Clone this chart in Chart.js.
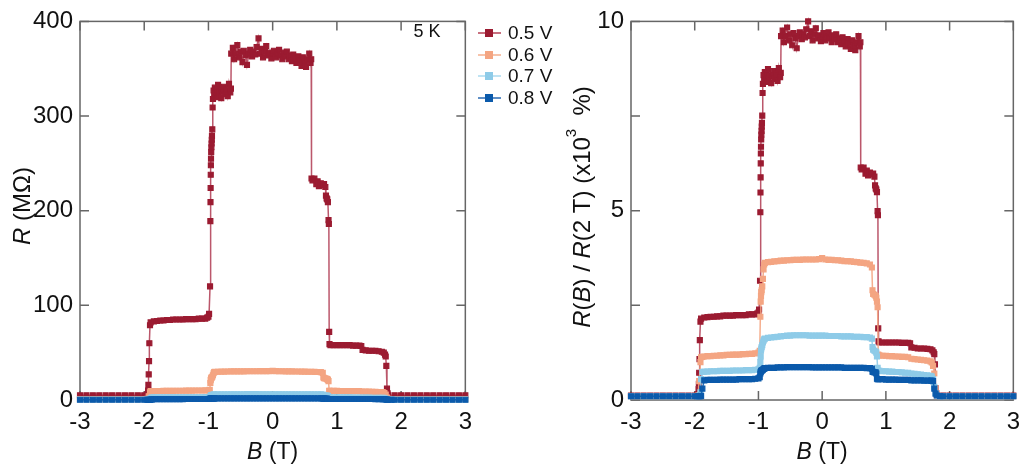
<!DOCTYPE html>
<html>
<head>
<meta charset="utf-8">
<script src="https://cdn.jsdelivr.net/npm/chart.js@4.4.1/dist/chart.umd.min.js"></script>
<style>
  html, body { margin: 0; padding: 0; background: #fff; }
  #wrap { position: relative; width: 1028px; height: 469px; overflow: hidden; font-family: "Liberation Sans", Arial, sans-serif; }
  canvas { position: absolute; top: 0; }
  .lg { position: absolute; left: 478px; height: 20px; width: 90px; }
  .lg .ln { position: absolute; left: 0; top: 9px; width: 23px; height: 2px; }
  .lg .sq { position: absolute; left: 7px; top: 6px; width: 8px; height: 8px; }
  .lg .tx { position: absolute; left: 30px; top: 0; font-size: 19px; line-height: 20px; color: #111; white-space: nowrap; }
</style>
</head>
<body>
<div id="wrap">
  <canvas id="cL" width="480" height="469" style="left:0;width:480px;height:469px"></canvas>
  <canvas id="cR" width="468" height="469" style="left:560px;width:468px;height:469px"></canvas>
  <div class="lg" style="top:23px"><div class="ln" style="background:#c8707f"></div><div class="sq" style="background:#9b1b31"></div><div class="tx">0.5 V</div></div>
  <div class="lg" style="top:44.7px"><div class="ln" style="background:#f7c3aa"></div><div class="sq" style="background:#f4a582"></div><div class="tx">0.6 V</div></div>
  <div class="lg" style="top:66.3px"><div class="ln" style="background:#bfe3f3"></div><div class="sq" style="background:#8ecbe8"></div><div class="tx">0.7 V</div></div>
  <div class="lg" style="top:88px"><div class="ln" style="background:#5f8fc6"></div><div class="sq" style="background:#0b5aab"></div><div class="tx">0.8 V</div></div>
</div>
<script>
// ---------- data ----------
const seriesLabels = ['0.5 V', '0.6 V', '0.7 V', '0.8 V'];
const xTickValues = [-3, -2, -1, 0, 1, 2, 3];
const yTicksLeft = [0, 100, 200, 300, 400];
const yTicksRight = [0, 2.5, 5, 7.5, 10];

// B (T) for the 0.5 V curve
const redB = [
  -3.0,-2.9,-2.8,-2.7,-2.6,-2.5,-2.4,-2.3,-2.2,-2.1,-2.0,-1.95,
  -1.94,-1.935,-1.93,-1.925,-1.92,-1.91,-1.9,
  -1.85,-1.8,-1.75,-1.7,-1.65,-1.6,-1.55,-1.5,-1.45,-1.4,-1.35,-1.3,-1.25,-1.2,-1.15,-1.1,-1.05,-1.02,-1.0,-0.99,
  -0.975,-0.97,-0.968,-0.966,-0.964,-0.962,-0.96,-0.957,-0.954,-0.951,-0.948,-0.945,-0.94,-0.935,
  -0.93,-0.92,-0.91,-0.9,-0.89,-0.88,-0.87,-0.86,-0.85,-0.84,-0.82,-0.8,-0.78,-0.76,-0.74,-0.72,-0.7,-0.68,-0.66,-0.65,
  -0.645,-0.62,-0.6,-0.58,-0.55,-0.52,-0.5,-0.47,-0.45,-0.42,-0.4,-0.37,-0.35,-0.32,-0.3,-0.27,-0.25,-0.22,-0.2,-0.17,-0.15,-0.12,-0.1,-0.07,-0.05,-0.02,0.0,0.02,0.05,0.07,0.1,0.12,0.15,0.17,0.2,0.22,0.25,0.27,0.3,0.32,0.35,0.37,0.4,0.42,0.45,0.47,0.5,0.52,0.55,0.57,0.59,0.6,
  0.605,0.62,0.65,0.68,0.7,0.72,0.75,0.78,0.8,0.82,0.83,0.84,0.85,0.86,0.87,0.875,
  0.88,0.885,0.9,0.95,1.0,1.05,1.1,1.15,1.2,1.25,1.3,1.35,1.38,1.4,1.45,1.5,1.55,1.6,1.65,1.7,1.73,1.75,1.76,1.77,
  1.78,1.79,1.8,1.9,2.0,2.1,2.2,2.3,2.4,2.5,2.6,2.7,2.8,2.9,3.0
];
// R (MOhm), 0.5 V
const redR = [
  5,5,5,5,5,5,5,5,5,5,5,6,
  10,16,27,41,60,79,82,
  83,83.5,84,84,84.5,84.5,85,85,85,85,85.5,85.5,85.5,85.5,86,86,86,87,88,91,
  120,189,209,224,238,248,255,262,267,271,275,279,286,309,
  318,327,322,330,324,320,328,325,333,322,326,319,327,331,323,328,321,334,325,329,
  366,372,360,366,375,362,368,357,369,364,354,366,370,363,368,365,373,382,366,371,362,368,374,364,367,361,366,369,362,366,370,364,360,367,363,368,360,364,358,365,361,356,363,359,353,362,357,352,360,366,356,360,
  234,232,234,228,231,226,229,227,228,225,216,213,212,209,190,186,
  72,59,58,58,58,58,58,58,58,57.5,57.5,57.5,57,53,52.5,52,52,52,51.5,51,50,48,46,36,
  12,7,5,5,5,5,5,5,5,5,5,5,5,5,5
];
// R(B)/R(2 T) (x10^3 %), 0.5 V
const redRatio = [
  0.12,0.12,0.12,0.12,0.12,0.12,0.12,0.12,0.12,0.12,0.12,0.15,
  0.28,0.43,0.72,1.08,1.58,2.07,2.15,
  2.18,2.19,2.2,2.2,2.21,2.21,2.23,2.23,2.23,2.23,2.24,2.24,2.24,2.24,2.26,2.26,2.26,2.28,2.31,2.39,
  3.15,4.96,5.48,5.88,6.25,6.51,6.69,6.88,7.01,7.11,7.22,7.32,7.51,8.11,
  8.35,8.58,8.45,8.66,8.5,8.4,8.61,8.53,8.74,8.45,8.56,8.37,8.58,8.69,8.48,8.61,8.43,8.77,8.53,8.64,
  9.61,9.76,9.45,9.61,9.84,9.5,9.66,9.37,9.69,9.55,9.29,9.61,9.71,9.53,9.66,9.58,9.79,10.0,9.61,9.74,9.5,9.66,9.82,9.55,9.63,9.48,9.61,9.69,9.5,9.61,9.71,9.55,9.45,9.63,9.53,9.66,9.45,9.55,9.4,9.58,9.48,9.34,9.53,9.42,9.27,9.5,9.37,9.24,9.45,9.61,9.34,9.45,
  6.14,6.09,6.14,5.98,6.06,5.93,6.01,5.96,5.98,5.9,5.67,5.59,5.56,5.49,4.99,4.88,
  1.89,1.55,1.52,1.52,1.52,1.52,1.52,1.52,1.52,1.51,1.51,1.51,1.5,1.39,1.38,1.36,1.36,1.36,1.35,1.34,1.31,1.26,1.21,0.94,
  0.31,0.18,0.13,0.12,0.12,0.12,0.12,0.12,0.12,0.12,0.12,0.12,0.12,0.12,0.12
];

// B (T) for the 0.6 / 0.7 / 0.8 V curves
const bandB = [
  -3.0,-2.9,-2.8,-2.7,-2.6,-2.5,-2.4,-2.3,-2.2,-2.1,-2.0,-1.95,
  -1.93,-1.91,-1.9,-1.88,
  -1.85,-1.8,-1.75,-1.7,-1.65,-1.6,-1.55,-1.5,-1.45,-1.4,-1.35,-1.3,-1.25,-1.2,-1.15,-1.1,-1.05,-1.0,
  -0.98,-0.97,-0.965,-0.96,-0.955,-0.95,-0.94,-0.93,-0.92,-0.91,
  -0.9,-0.85,-0.8,-0.75,-0.7,-0.65,-0.6,-0.55,-0.5,-0.45,-0.4,-0.35,-0.3,-0.25,-0.2,-0.15,-0.1,-0.05,0.0,0.05,0.1,0.15,0.2,0.25,0.3,0.35,0.4,0.45,0.5,0.55,0.6,0.65,0.7,0.75,
  0.78,0.79,0.8,0.82,0.84,0.85,0.86,0.87,
  0.88,0.9,0.95,1.0,1.05,1.1,1.15,1.2,1.25,1.3,1.35,1.4,1.45,1.5,1.55,1.6,1.65,1.7,
  1.72,1.74,1.76,1.78,1.8,1.85,
  1.9,2.0,2.1,2.2,2.3,2.4,2.5,2.6,2.7,2.8,2.9,3.0
];
const orangeR = [
  1,1,1,1,1,1,1,1,1,1,1,1.2,
  4,8,9.3,9.35,
  9.4,9.5,9.5,9.6,9.6,9.7,9.7,9.8,9.8,9.8,9.9,9.9,9.9,10,10,10,10.1,10.2,
  10.7,18,21,22.5,23.3,23.8,24.6,26.2,28.3,29.4,
  29.7,29.8,29.9,30,30.1,30.2,30.2,30.3,30.3,30.3,30.4,30.4,30.4,30.4,30.5,30.5,30.5,30.5,30.7,30.5,30.4,30.4,30.3,30.3,30.2,30.1,30.1,30,29.9,29.8,29.8,29.7,29.6,29.4,
  28.7,23.8,23,22.8,22.5,22.1,21.3,20,
  9.8,9.7,9.6,9.6,9.5,9.5,9.4,9.4,9.4,9.3,9.3,8.9,8.9,8.8,8.7,8.6,8.5,8.4,
  8.1,7.4,5.7,2.5,1.2,1,
  1,1,1,1,1,1,1,1,1,1,1,1
];
const orangeRatio = [
  0.1,0.1,0.1,0.1,0.1,0.1,0.1,0.1,0.1,0.1,0.1,0.12,
  0.5,1.0,1.13,1.14,
  1.15,1.16,1.16,1.17,1.17,1.18,1.18,1.19,1.19,1.2,1.2,1.2,1.21,1.21,1.22,1.22,1.23,1.25,
  1.3,2.2,2.6,2.75,2.85,2.9,3.0,3.2,3.45,3.58,
  3.62,3.64,3.65,3.66,3.67,3.68,3.68,3.69,3.69,3.7,3.7,3.7,3.71,3.71,3.71,3.71,3.71,3.72,3.75,3.71,3.7,3.7,3.69,3.69,3.68,3.67,3.67,3.66,3.65,3.64,3.63,3.62,3.61,3.58,
  3.5,2.9,2.8,2.78,2.75,2.7,2.6,2.45,
  1.2,1.18,1.17,1.17,1.16,1.16,1.15,1.15,1.14,1.14,1.13,1.09,1.08,1.07,1.06,1.05,1.04,1.02,
  0.99,0.9,0.7,0.3,0.15,0.1,
  0.1,0.1,0.1,0.1,0.1,0.1,0.1,0.1,0.1,0.1,0.1,0.1
];
const lightR = [
  0.5,0.5,0.5,0.5,0.5,0.5,0.5,0.5,0.5,0.5,0.5,0.5,
  0.6,1.0,2.0,2.7,
  2.8,2.8,2.8,2.8,2.8,2.8,2.8,2.9,2.9,2.9,2.9,2.9,2.9,2.9,2.9,2.9,3.0,3.0,
  3.1,3.6,4.1,4.6,4.9,5.0,5.2,5.4,5.6,5.7,
  5.8,5.9,5.9,6.0,6.0,6.0,6.1,6.1,6.1,6.1,6.2,6.2,6.2,6.2,6.1,6.1,6.1,6.1,6.1,6.1,6.1,6.1,6.1,6.0,6.0,6.0,6.0,6.0,6.0,6.0,6.0,5.9,5.9,5.9,
  5.8,5.0,4.8,4.7,4.6,4.5,4.1,3.1,
  2.8,2.8,2.7,2.7,2.7,2.7,2.7,2.7,2.6,2.6,2.6,2.5,2.5,2.5,2.4,2.4,2.4,2.3,
  2.2,2.0,1.3,0.7,0.5,0.4,
  0.4,0.4,0.4,0.4,0.4,0.4,0.4,0.4,0.4,0.4,0.4,0.4
];
const lightRatio = [
  0.1,0.1,0.1,0.1,0.1,0.1,0.1,0.1,0.1,0.1,0.1,0.1,
  0.12,0.2,0.55,0.74,
  0.75,0.75,0.76,0.76,0.76,0.77,0.77,0.77,0.77,0.78,0.78,0.78,0.78,0.79,0.79,0.79,0.8,0.81,
  0.85,1.0,1.15,1.3,1.36,1.4,1.45,1.52,1.57,1.6,
  1.62,1.64,1.65,1.66,1.67,1.68,1.69,1.7,1.7,1.71,1.71,1.71,1.71,1.71,1.7,1.7,1.7,1.7,1.7,1.7,1.69,1.69,1.69,1.69,1.68,1.68,1.68,1.68,1.67,1.67,1.67,1.66,1.66,1.65,
  1.62,1.4,1.33,1.3,1.28,1.25,1.15,0.85,
  0.78,0.77,0.76,0.76,0.75,0.75,0.74,0.74,0.73,0.72,0.72,0.7,0.69,0.68,0.67,0.66,0.65,0.64,
  0.62,0.55,0.35,0.18,0.12,0.1,
  0.1,0.1,0.1,0.1,0.1,0.1,0.1,0.1,0.1,0.1,0.1,0.1
];
const darkR = [
  0.3,0.3,0.3,0.3,0.3,0.3,0.3,0.3,0.3,0.3,0.3,0.3,
  0.3,0.3,0.4,0.7,
  1.0,1.0,1.0,1.0,1.0,1.0,1.0,1.0,1.0,1.0,1.05,1.05,1.05,1.05,1.05,1.05,1.1,1.1,
  1.15,1.3,1.4,1.45,1.5,1.5,1.55,1.55,1.6,1.6,
  1.65,1.65,1.65,1.66,1.67,1.67,1.68,1.68,1.69,1.69,1.7,1.7,1.7,1.7,1.7,1.69,1.69,1.69,1.69,1.69,1.68,1.68,1.68,1.68,1.67,1.67,1.67,1.66,1.66,1.66,1.65,1.65,1.64,1.64,
  1.6,1.45,1.4,1.4,1.4,1.35,1.1,1.05,
  1.05,1.05,1.05,1.05,1.04,1.04,1.04,1.03,1.03,1.03,1.02,1.02,1.02,1.01,1.01,1.0,1.0,1.0,
  1.0,0.95,0.6,0.4,0.3,0.3,
  0.3,0.3,0.3,0.3,0.3,0.3,0.3,0.3,0.3,0.3,0.3,0.3
];
const darkRatio = [
  0.1,0.1,0.1,0.1,0.1,0.1,0.1,0.1,0.1,0.1,0.1,0.1,
  0.1,0.1,0.11,0.3,
  0.52,0.53,0.53,0.53,0.53,0.54,0.54,0.54,0.54,0.54,0.54,0.55,0.55,0.55,0.55,0.55,0.56,0.57,
  0.6,0.7,0.74,0.76,0.77,0.78,0.79,0.8,0.82,0.83,
  0.84,0.85,0.85,0.85,0.86,0.86,0.86,0.87,0.87,0.87,0.87,0.87,0.87,0.87,0.87,0.86,0.86,0.86,0.86,0.86,0.86,0.86,0.86,0.86,0.86,0.85,0.85,0.85,0.85,0.85,0.85,0.85,0.84,0.84,
  0.83,0.75,0.74,0.73,0.73,0.7,0.56,0.55,
  0.55,0.55,0.55,0.54,0.54,0.54,0.54,0.53,0.53,0.53,0.53,0.52,0.52,0.52,0.52,0.51,0.51,0.51,
  0.51,0.5,0.3,0.17,0.12,0.1,
  0.1,0.1,0.1,0.1,0.1,0.1,0.1,0.1,0.1,0.1,0.1,0.1
];

// ---------- styling ----------
const markerColors = ['#9b1b31', '#f4a582', '#8ecbe8', '#0b5aab'];
const lineColors = ['rgba(170,45,70,0.8)', 'rgba(244,165,130,0.9)', 'rgba(142,203,232,0.9)', 'rgba(11,90,171,0.85)'];
const FONT = '"Liberation Sans", Arial, sans-serif';

function pairs(b, v, name) {
  if (b.length !== v.length) throw new Error('length mismatch ' + name + ' ' + b.length + ' vs ' + v.length);
  return b.map((x, i) => ({ x: x, y: v[i] }));
}

function makeDatasets(lists) {
  return lists.map((d, i) => ({
    label: seriesLabels[i],
    data: d,
    borderColor: lineColors[i],
    borderWidth: 1.5,
    backgroundColor: markerColors[i],
    pointBackgroundColor: markerColors[i],
    pointBorderColor: markerColors[i],
    pointBorderWidth: 1.2,
    pointStyle: 'rect',
    pointRadius: 3.5,
    tension: 0,
    clip: false,
    order: 3 - i
  }));
}

const frameTicks = {
  id: 'frameTicks',
  beforeDatasetsDraw(chart, args, o) {
    const { ctx, chartArea: a, scales } = chart;
    const x = scales.x, y = scales.y;
    ctx.save();
    ctx.strokeStyle = '#666';
    ctx.lineWidth = 1.5;
    ctx.strokeRect(a.left, a.top, a.right - a.left, a.bottom - a.top);
    ctx.beginPath();
    const L = 9;
    o.xt.forEach(v => {
      const px = x.getPixelForValue(v);
      ctx.moveTo(px, a.top); ctx.lineTo(px, a.top + L);
      ctx.moveTo(px, a.bottom); ctx.lineTo(px, a.bottom - L);
    });
    o.yt.forEach(v => {
      const py = y.getPixelForValue(v);
      ctx.moveTo(a.left, py); ctx.lineTo(a.left + L, py);
      ctx.moveTo(a.right, py); ctx.lineTo(a.right - L, py);
    });
    ctx.stroke();
    ctx.restore();
  }
};

function fontOf(p) { return (p.it ? 'italic ' : '') + (p.size || 23) + 'px ' + FONT; }
function piecesWidth(ctx, pieces) {
  let w = 0;
  pieces.forEach(p => { ctx.font = fontOf(p); w += ctx.measureText(p.t).width; });
  return w;
}
function drawPieces(ctx, pieces, x0, y0) {
  let x = x0;
  pieces.forEach(p => {
    ctx.font = fontOf(p);
    ctx.fillText(p.t, x, y0 - (p.raise || 0));
    x += ctx.measureText(p.t).width;
  });
}

const titles = {
  id: 'titles',
  afterDraw(chart, args, o) {
    const { ctx, chartArea: a } = chart;
    ctx.save();
    ctx.fillStyle = '#111';
    ctx.textBaseline = 'alphabetic';
    ctx.textAlign = 'left';
    const cx = (a.left + a.right) / 2;
    const wx = piecesWidth(ctx, o.x);
    drawPieces(ctx, o.x, cx - wx / 2, o.xBase);
    const wy = piecesWidth(ctx, o.y);
    ctx.save();
    ctx.translate(o.yBase, o.yCenter);
    ctx.rotate(-Math.PI / 2);
    drawPieces(ctx, o.y, -wy / 2, 0);
    ctx.restore();
    (o.notes || []).forEach(n => {
      ctx.font = n.size + 'px ' + FONT;
      ctx.textAlign = 'center';
      ctx.fillText(n.t, n.x, n.y);
    });
    ctx.restore();
  }
};

function makeChart(id, datasets, yMax, yStep, yTickMarks, padRight, yWidth, titleOpts) {
  return new Chart(document.getElementById(id), {
    type: 'line',
    data: { datasets: datasets },
    options: {
      responsive: false,
      devicePixelRatio: 1,
      animation: false,
      events: [],
      layout: { autoPadding: false, padding: { top: 13, right: padRight, left: 0, bottom: 0 } },
      plugins: {
        legend: { display: false },
        tooltip: { enabled: false },
        frameTicks: { xt: xTickValues, yt: yTickMarks },
        titles: titleOpts
      },
      scales: {
        x: {
          type: 'linear', min: -3, max: 3,
          ticks: { stepSize: 1, color: '#111', font: { size: 24, family: FONT }, padding: 8, maxRotation: 0 },
          grid: { drawOnChartArea: false, drawTicks: false },
          border: { display: false },
          afterFit(s) { s.height = 69; }
        },
        y: {
          type: 'linear', min: 0, max: yMax,
          ticks: { stepSize: yStep, color: '#111', font: { size: 24, family: FONT }, padding: 7 },
          grid: { drawOnChartArea: false, drawTicks: false },
          border: { display: false },
          afterFit(s) { s.width = yWidth; }
        }
      }
    },
    plugins: [frameTicks, titles]
  });
}

const leftSets = makeDatasets([
  pairs(redB, redR, 'redR'),
  pairs(bandB, orangeR, 'orangeR'),
  pairs(bandB, lightR, 'lightR'),
  pairs(bandB, darkR, 'darkR')
]);
const rightSets = makeDatasets([
  pairs(redB, redRatio, 'redRatio'),
  pairs(bandB, orangeRatio, 'orangeRatio'),
  pairs(bandB, lightRatio, 'lightRatio'),
  pairs(bandB, darkRatio, 'darkRatio')
]);

makeChart('cL', leftSets, 400, 100, yTicksLeft, 13, 80, {
  x: [{ t: 'B', it: true }, { t: ' (T)' }],
  xBase: 459,
  y: [{ t: 'R', it: true, size: 24 }, { t: ' (MΩ)', size: 24 }],
  yBase: 30, yCenter: 206,
  notes: [{ t: '5 K', x: 427, y: 37, size: 18 }]
});
makeChart('cR', rightSets, 10, 5, yTicksRight, 10, 71, {
  x: [{ t: 'B', it: true }, { t: ' (T)' }],
  xBase: 459,
  y: [{ t: 'R', it: true, size: 24 }, { t: '(', size: 24 }, { t: 'B', it: true, size: 24 }, { t: ') / ', size: 24 },
      { t: 'R', it: true, size: 24 }, { t: '(2 T) (x10', size: 24 }, { t: '3', size: 15, raise: 14 }, { t: '  %)', size: 24 }],
  yBase: 30, yCenter: 207
});
</script>
</body>
</html>
